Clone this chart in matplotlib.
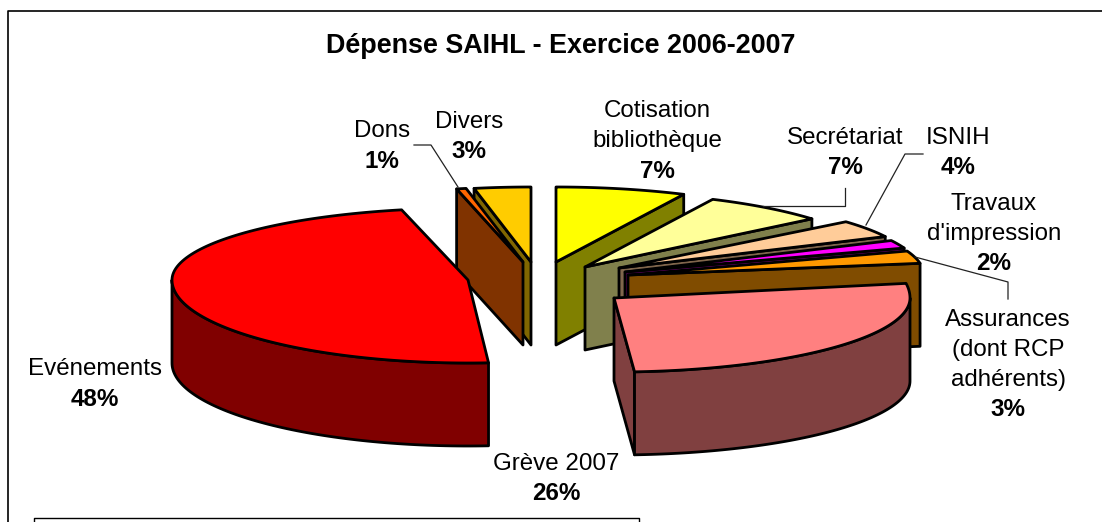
import numpy as np
import matplotlib
matplotlib.use('Agg')
import matplotlib.pyplot as plt
from matplotlib.patches import Polygon

plt.rcParams['font.family'] = ['Liberation Sans', 'DejaVu Sans']

# data, clockwise from 12 o'clock
names = ['Cotisation', 'Secrétariat', 'ISNIH', 'Travaux', 'Assurances', 'Grève', 'Evénements', 'Dons', 'Divers']
values = [7.1, 6.8, 3.9, 1.8, 2.8, 26.49, 47.5, 0.52, 3.08]
label_names = ['Cotisation\nbibliothèque', 'Secrétariat', 'ISNIH', "Travaux\nd'impression",
               'Assurances\n(dont RCP\nadhérents)', 'Grève 2007', 'Evénements', 'Dons', 'Divers']

top_colors = ['#FFFF00', '#FFFF99', '#FFCC99', '#FF00FF', '#FF9900', '#FF8080', '#FF0000', '#FF6600', '#FFCC00']
side_colors = ['#808000', '#80804C', '#80664C', '#800080', '#804C00', '#804040', '#800000', '#803300', '#806600']

# exploded apex of each slice in pixels, with back/front half height of its ellipse
apex_x = [556, 585, 619, 625, 628, 614, 468, 523, 531]
apex_y = [262, 267, 268, 272, 275, 298, 280, 262, 262]
ry_back = [75, 75, 72, 72, 72, 90, 72, 75, 75]
ry_front = [75, 75, 75, 75, 75, 74, 83, 75, 75]
rx = 296
depth = 83

# label centres in pixels
label_x = [657, 845, 958, 994, 1008, 556, 95, 382, 469]
label_y = [141, 153, 153, 234, 365, 479, 384, 146, 137]
line_step = 30.0

fig = plt.figure(figsize=(11.02, 5.22), dpi=100)
ax = fig.add_axes([0, 0, 1, 1])
ax.set_xlim(0, 1102)
ax.set_ylim(522, 0)
ax.axis('off')


def rim(i, a):
    a = np.asarray(a, dtype=float)
    ca, sa = np.cos(np.radians(a)), np.sin(np.radians(a))
    ry = np.where(ca > 0, ry_back[i], ry_front[i])
    return apex_x[i] + rx * sa, apex_y[i] - ry * ca


def draw_slice(i, start, end):
    lw = 2.0
    top, side = top_colors[i], side_colors[i]
    x0, y0 = apex_x[i], apex_y[i]
    style = dict(facecolor=side, edgecolor='black', linewidth=lw, joinstyle='round')

    # cut faces, only those turned to the viewer
    for a, seen in ((start, np.sin(np.radians(start)) < 0), (end, np.sin(np.radians(end)) > 0)):
        if seen:
            xe, ye = rim(i, a)
            ax.add_patch(Polygon([(x0, y0), (xe, ye), (xe, ye + depth), (x0, y0 + depth)], **style))

    # outer wall, front half of the ellipse only
    lo, hi = max(start, 90), min(end, 270)
    if lo < hi:
        t = np.linspace(lo, hi, 80)
        xs, ys = rim(i, t)
        pts = np.vstack([np.c_[xs, ys], np.c_[xs, ys + depth][::-1]])
        ax.add_patch(Polygon(pts, **style))

    t = np.linspace(start, end, 120)
    xs, ys = rim(i, t)
    pts = np.vstack([[x0, y0], np.c_[xs, ys]])
    ax.add_patch(Polygon(pts, facecolor=top, edgecolor='black', linewidth=lw, joinstyle='round'))


cuts = np.cumsum([0] + values) / sum(values) * 360
for i in [8, 7, 6, 0, 1, 2, 3, 4, 5]:
    draw_slice(i, cuts[i], cuts[i + 1])

# leader lines
line_color = '#222222'
ax.plot([414, 431, 458], [145, 145, 187], color=line_color, lw=0.9)
ax.plot([763, 845, 845], [206, 206, 188], color=line_color, lw=0.9)
ax.plot([866, 905, 923], [225, 154, 154], color=line_color, lw=0.9)
ax.plot([915, 1008, 1008], [257, 282, 299], color=line_color, lw=0.9)

# labels, one text per line so the step matches
for i in range(len(names)):
    lines = label_names[i].split('\n')
    y_top = label_y[i] - len(lines) * line_step / 2
    for k, line in enumerate(lines):
        ax.text(label_x[i], y_top + k * line_step, line, ha='center', va='center',
                fontsize=17.4, color='black')
    ax.text(label_x[i], y_top + len(lines) * line_step, '%d%%' % round(values[i]), ha='center', va='center',
            fontsize=17.4, fontweight='bold', color='black')

ax.text(561, 46, 'Dépense SAIHL - Exercice 2006-2007', ha='center', va='center',
        fontsize=19.4, fontweight='bold', color='black')

# chart frame and the box below it
ax.plot([7.5, 7.5, 1102], [522, 10.5, 10.5], color='black', lw=1.2, clip_on=False)
ax.plot([33.5, 33.5, 639, 639], [522, 517.5, 517.5, 522], color='black', lw=1.0)

fig.savefig('out.png', dpi=100)
